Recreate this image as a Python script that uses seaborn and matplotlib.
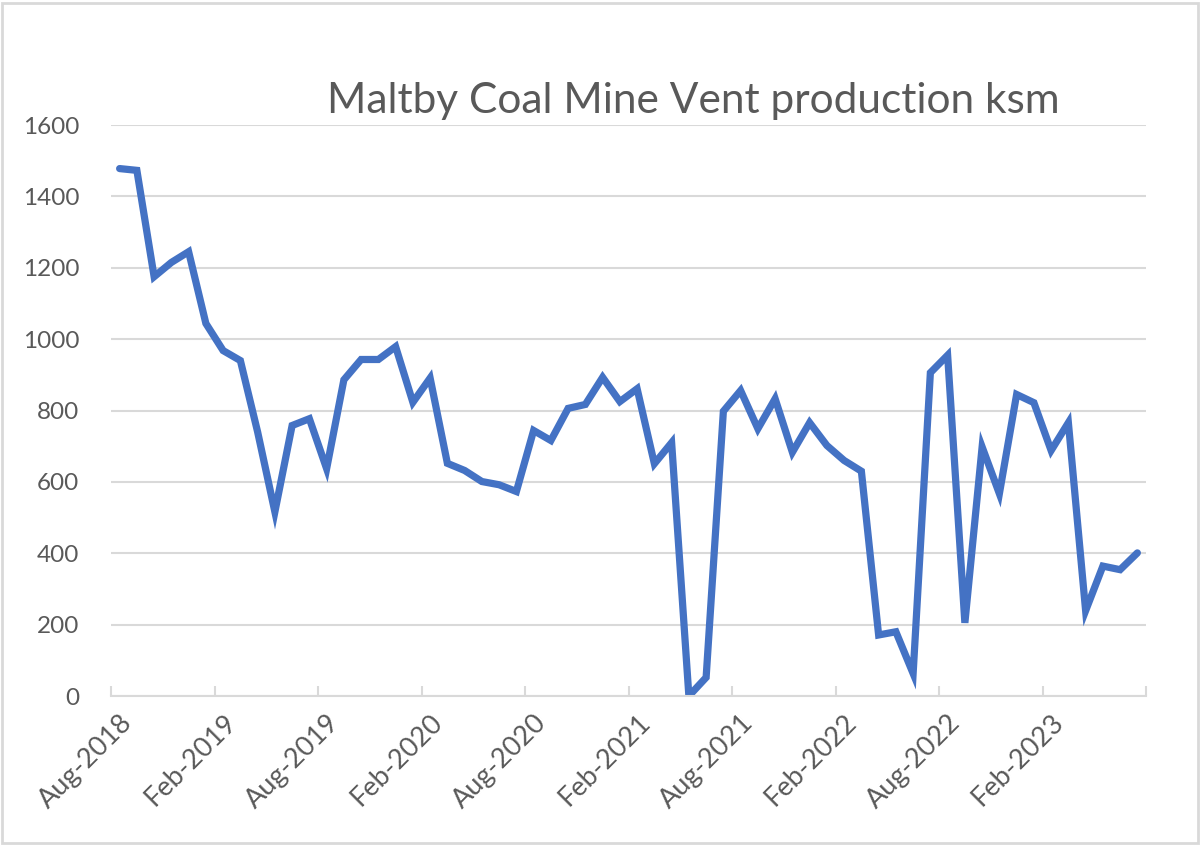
import pandas as pd
import seaborn as sns
import matplotlib.pyplot as plt
from matplotlib.patches import Rectangle

# monthly vent production (ksm), Aug-2018 .. Jul-2023
production = [1478, 1473, 1175, 1215, 1245, 1044, 968, 940, 740, 516,
              758, 777, 637, 886, 943, 943, 979, 823, 891, 652,
              632, 601, 592, 573, 744, 716, 806, 817, 893, 825,
              861, 651, 710, 0, 52, 798, 856, 749, 833, 683,
              766, 702, 660, 630, 171, 180, 63, 906, 955, 205,
              698, 567, 845, 822, 688, 766, 239, 364, 354, 401]
tick_labels = ["Aug-2018", "Feb-2019", "Aug-2019", "Feb-2020", "Aug-2020",
               "Feb-2021", "Aug-2021", "Feb-2022", "Aug-2022", "Feb-2023"]
y_ticks = [0, 200, 400, 600, 800, 1000, 1200, 1400, 1600]
title = "Maltby Coal Mine Vent production ksm"

df = pd.DataFrame({"month": range(len(production)), "ksm": production})

sns.set_theme(style="white")
plt.rcParams["font.family"] = ["Lato", "DejaVu Sans"]
grey = "#595959"

fig = plt.figure(figsize=(12, 8.46), dpi=100)
ax = fig.add_axes([0.0925, 0.1773, 0.8625, 0.6749])

sns.lineplot(data=df, x="month", y="ksm", ax=ax, color="#4472C4",
             linewidth=5.2, solid_joinstyle="miter", solid_capstyle="round")

ax.set_xlim(-0.5, len(production) - 0.5)
ax.set_ylim(0, 1600)
ax.set_yticks(y_ticks)
ax.set_yticklabels([str(v) for v in y_ticks])
ax.yaxis.grid(True, color="#D9D9D9", linewidth=1.5)
ax.set_axisbelow(True)

ax.set_xticks(range(0, 6 * len(tick_labels), 6))
ax.set_xticklabels(tick_labels, rotation=45, ha="right", rotation_mode="anchor")
ax.set_xticks([i - 0.5 for i in range(0, len(production) + 1, 6)], minor=True)
ax.tick_params(axis="x", which="major", length=0, pad=10, labelsize=19.5, labelcolor=grey)
ax.tick_params(axis="x", which="minor", direction="in", length=7, width=1.5, color="#D9D9D9", bottom=True)
ax.tick_params(axis="y", length=0, pad=23, labelsize=17.5, labelcolor=grey)

for side in ["left", "right", "top"]:
    ax.spines[side].set_visible(False)
ax.spines["bottom"].set_color("#D9D9D9")
ax.spines["bottom"].set_linewidth(1.5)

ax.set_xlabel("")
ax.set_ylabel("")

fig.text(0.5775, 0.881, title, ha="center", va="center", fontsize=30.5, color=grey)

# light chart border
fig.patches.append(Rectangle((0.002, 0.003), 0.996, 0.994, transform=fig.transFigure,
                             fill=False, edgecolor="#D9D9D9", linewidth=2))

fig.savefig("out.png", dpi=100)
